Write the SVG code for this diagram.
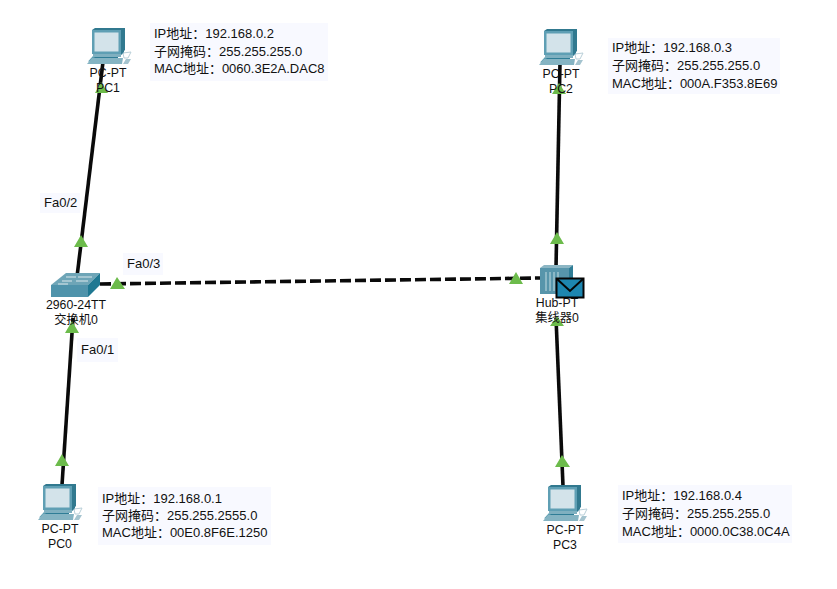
<svg xmlns="http://www.w3.org/2000/svg" width="837" height="589" viewBox="0 0 837 589">
<style>
text{font-family:"Liberation Sans","Noto Sans CJK SC",sans-serif;font-size:12.300px;fill:#111}
.l{font-size:13px}
.c{text-anchor:middle}
.bg{fill:#f8f9ff}
.lnk{stroke:#0a0a0a;stroke-width:3.600;fill:none}
.dash{stroke-dasharray:11 4}
.tri{fill:#6cbb4b}
</style>
<defs>
<g id="pc">
<path d="M1 33.500L6 28H29L32 28L26 33.500Z" fill="#5f9fb2"/>
<path d="M5 31H31V28H10Z" fill="#2f7d96"/>
<path d="M8 3H37V25L34 27H6Z" fill="#2f7d96"/>
<path d="M5 2L8 0H38V22L34 26V2Z" fill="#31798f"/>
<rect x="5" y="2" width="29" height="24" fill="#5f9fb4"/>
<rect x="7.500" y="4.500" width="24" height="19" fill="#d3e3ea"/>
<path d="M6 26H34V29H6Z" fill="#7fb0c0"/>
<path d="M0 36L5 30H36L35 36Z" fill="#85b4c3"/>
<path d="M36 25L44 24L41 30H37Z" fill="none" stroke="#b9cfd8" stroke-width="1"/>
<path d="M36 36L39 31H44L41 36Z" fill="#a5c4cf"/>
</g>
</defs>
<g id="connectors">
<line class="lnk" x1="103" y1="62" x2="76" y2="285"/>
<line class="lnk" x1="62" y1="485" x2="73" y2="318"/>
<line class="lnk" x1="560" y1="62" x2="556" y2="268"/>
<line class="lnk" x1="563" y1="486" x2="556" y2="318"/>
<line class="lnk dash" x1="100" y1="284" x2="540" y2="278"/>
</g>
<g id="markers">
<path class="tri" d="M95 93L101 82L108 93ZM552 94L559 83L566 94ZM74 247L81 235L88 247ZM110 289L117 277L125 289ZM65 333L72 321L79 333ZM55 466L62 454L69 466ZM509 284L516 272L523 284ZM550 244L557 232L564 244ZM555 467L562 455L570 467ZM550 326L557 316L564 326Z"/>
</g>
<g id="pc1"><use href="#pc" x="87" y="28"/><text class="c" x="108" y="77">PC-PT</text><text class="c" x="108" y="92">PC1</text></g>
<g id="pc2"><use href="#pc" x="539" y="29"/><text class="c" x="561" y="78">PC-PT</text><text class="c" x="561" y="93">PC2</text></g>
<g id="pc0"><use href="#pc" x="38" y="484"/><text class="c" x="60" y="533">PC-PT</text><text class="c" x="60" y="548">PC0</text></g>
<g id="pc3"><use href="#pc" x="543" y="485"/><text class="c" x="565" y="534">PC-PT</text><text class="c" x="565" y="549">PC3</text></g>
<g id="switch0">
<path d="M51 285L66 273H100L88 285Z" fill="#6ea5b7"/>
<path d="M88 285L100 273V285L88 297Z" fill="#1f7892"/>
<rect x="51" y="285" width="37" height="12" fill="#4f93ab"/>
<path d="M66 277H76M78 277H92M62 281H72M58 284H68M76 281H88" stroke="#dbe8ec" stroke-width="1" fill="none"/>
<text class="c" x="76" y="309">2960-24TT</text><text class="c" x="76" y="324">交换机0</text>
</g>
<g id="hub0">
<path d="M540 268L544 265H573L569 268Z" fill="#8cb6c4"/>
<path d="M569 268L573 265V290L569 294Z" fill="#2f7d96"/>
<rect x="540" y="268" width="29" height="26" fill="#5795ab"/>
<path d="M546 272V291M550 272V291M554 272V291M558 272V291" stroke="#9fc3cf" stroke-width="1.500"/>
<text class="c" x="557" y="307">Hub-PT</text><text class="c" x="557" y="322">集线器0</text>
<rect x="556.500" y="278.500" width="27" height="19" fill="#1d86b0" stroke="#050505" stroke-width="2"/>
<path d="M557 279L570 291L583 279" fill="none" stroke="#050505" stroke-width="2"/>
</g>
<g id="labels">
<rect class="bg" x="150" y="23" width="178" height="58"/>
<text class="l" x="154" y="38">IP地址：192.168.0.2</text><text class="l" x="154" y="56">子网掩码：255.255.255.0</text><text class="l" x="154" y="73">MAC地址：0060.3E2A.DAC8</text>
<rect class="bg" x="608" y="38" width="172" height="56"/>
<text class="l" x="612" y="52">IP地址：192.168.0.3</text><text class="l" x="612" y="70">子网掩码：255.255.255.0</text><text class="l" x="612" y="88">MAC地址：000A.F353.8E69</text>
<rect class="bg" x="98" y="487" width="173" height="58"/>
<text class="l" x="102" y="503">IP地址：192.168.0.1</text><text class="l" x="102" y="520">子网掩码：255.255.2555.0</text><text class="l" x="102" y="537">MAC地址：00E0.8F6E.1250</text>
<rect class="bg" x="618" y="485" width="174" height="58"/>
<text class="l" x="622" y="500">IP地址：192.168.0.4</text><text class="l" x="622" y="518">子网掩码：255.255.255.0</text><text class="l" x="622" y="536">MAC地址：0000.0C38.0C4A</text>
<rect class="bg" x="40" y="193" width="40" height="20"/><text class="l" x="44" y="207">Fa0/2</text>
<rect class="bg" x="123" y="253" width="40" height="22"/><text class="l" x="127" y="268">Fa0/3</text>
<rect class="bg" x="77" y="338" width="41" height="24"/><text class="l" x="81" y="354">Fa0/1</text>
</g>
</svg>
